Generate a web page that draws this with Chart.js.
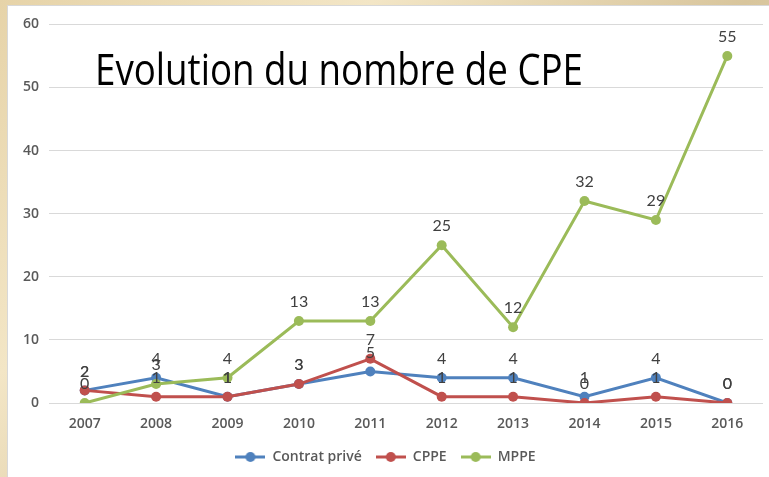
<!DOCTYPE html>
<html>
<head>
<meta charset="utf-8">
<script src="https://cdn.jsdelivr.net/npm/chart.js@4/dist/chart.umd.min.js"></script>
<style>
  html, body { margin: 0; padding: 0; }
  body {
    width: 769px; height: 477px; overflow: hidden; position: relative;
    background: linear-gradient(135deg, #e6d3a8 0%, #f3e6c6 30%, #d8c59c 60%, #efe0bd 100%);
  }
  #panel {
    position: absolute; left: 7px; top: 5px; width: 762px; height: 472px;
    background: #ffffff; border-left: 1px solid #d8d8d8; border-top: 1px solid #d8d8d8;
  }
</style>
</head>
<body>
<div id="panel"><canvas id="graficoCPE" width="762" height="472"></canvas></div>
<script>
// Données du graphique
const annees = ['2007', '2008', '2009', '2010', '2011', '2012', '2013', '2014', '2015', '2016'];
const contratPrive = [2, 4, 1, 3, 5, 4, 4, 1, 4, 0];
const cppe = [2, 1, 1, 3, 7, 1, 1, 0, 1, 0];
const mppe = [0, 3, 4, 13, 13, 25, 12, 32, 29, 55];
const nomsSeries = ['Contrat privé', 'CPPE', 'MPPE'];
const couleurs = ['#4f81bd', '#c0504d', '#9bbb59'];
const titre = 'Evolution du nombre de CPE';

// Icônes de légende : trait + point
function iconeLegende(couleur) {
    const c = document.createElement('canvas');
    c.width = 30; c.height = 12;
    const ctx = c.getContext('2d');
    ctx.strokeStyle = couleur;
    ctx.lineWidth = 3;
    ctx.beginPath(); ctx.moveTo(0, 6); ctx.lineTo(30, 6); ctx.stroke();
    ctx.fillStyle = couleur;
    ctx.beginPath(); ctx.arc(15, 6, 5, 0, Math.PI * 2); ctx.fill();
    return c;
}
const icones = couleurs.map(iconeLegende);

// Étiquettes de valeurs au-dessus des points
const etiquettesPlugin = {
    id: 'etiquettes',
    afterDatasetsDraw(chart) {
        const ctx = chart.ctx;
        ctx.save();
        ctx.font = '16px Lato, "Open Sans", sans-serif';
        ctx.fillStyle = '#404040';
        ctx.textAlign = 'center';
        ctx.textBaseline = 'bottom';
        chart.data.datasets.forEach((ds, i) => {
            chart.getDatasetMeta(i).data.forEach((pt, j) => {
                ctx.fillText(String(ds.data[j]), pt.x, pt.y - 11);
            });
        });
        ctx.restore();
    }
};

// Titre dans la zone de tracé
const titrePlugin = {
    id: 'titre',
    afterDraw(chart) {
        const ctx = chart.ctx;
        ctx.save();
        ctx.font = '43px "Liberation Sans Narrow", "Open Sans", sans-serif';
        ctx.fillStyle = '#000000';
        ctx.textBaseline = 'alphabetic';
        const w = ctx.measureText(titre).width;
        ctx.translate(87, 79);
        ctx.scale(488 / w, 1);
        ctx.fillText(titre, 0, 0);
        ctx.restore();
    }
};

const ctx = document.getElementById('graficoCPE').getContext('2d');
const series = [contratPrive, cppe, mppe];
const policeAxes = { family: '"Open Sans", sans-serif', size: 14, weight: '600' };
new Chart(ctx, {
    type: 'line',
    data: {
        labels: annees,
        datasets: series.map((d, i) => ({
            label: nomsSeries[i],
            data: d,
            borderColor: couleurs[i],
            backgroundColor: couleurs[i],
            borderWidth: 3,
            pointRadius: 5,
            pointHoverRadius: 5,
            pointBorderWidth: 0,
            tension: 0,
            order: 2 - i
        }))
    },
    options: {
        responsive: false,
        animation: false,
        layout: { padding: { top: 12, right: 7, bottom: 4, left: 0 } },
        plugins: {
            title: { display: false },
            tooltip: { enabled: false },
            legend: {
                position: 'bottom',
                labels: {
                    usePointStyle: true,
                    pointStyleWidth: 30,
                    padding: 14,
                    color: '#595959',
                    font: policeAxes,
                    generateLabels(chart) {
                        const items = Chart.defaults.plugins.legend.labels.generateLabels(chart);
                        items.forEach(it => { it.pointStyle = icones[it.datasetIndex]; });
                        return items.sort((a, b) => a.datasetIndex - b.datasetIndex);
                    }
                }
            }
        },
        scales: {
            x: {
                offset: true,
                grid: { display: false },
                border: { display: false },
                ticks: { color: '#595959', padding: 5, font: policeAxes },
                afterFit(scale) { scale.height = 33; }
            },
            y: {
                min: 0,
                max: 60,
                grid: { color: '#d9d9d9', drawTicks: false },
                border: { display: false },
                ticks: { stepSize: 10, padding: 10, color: '#595959', font: policeAxes },
                afterFit(scale) { scale.width = 41; }
            }
        }
    },
    plugins: [etiquettesPlugin, titrePlugin]
});
</script>
</body>
</html>
